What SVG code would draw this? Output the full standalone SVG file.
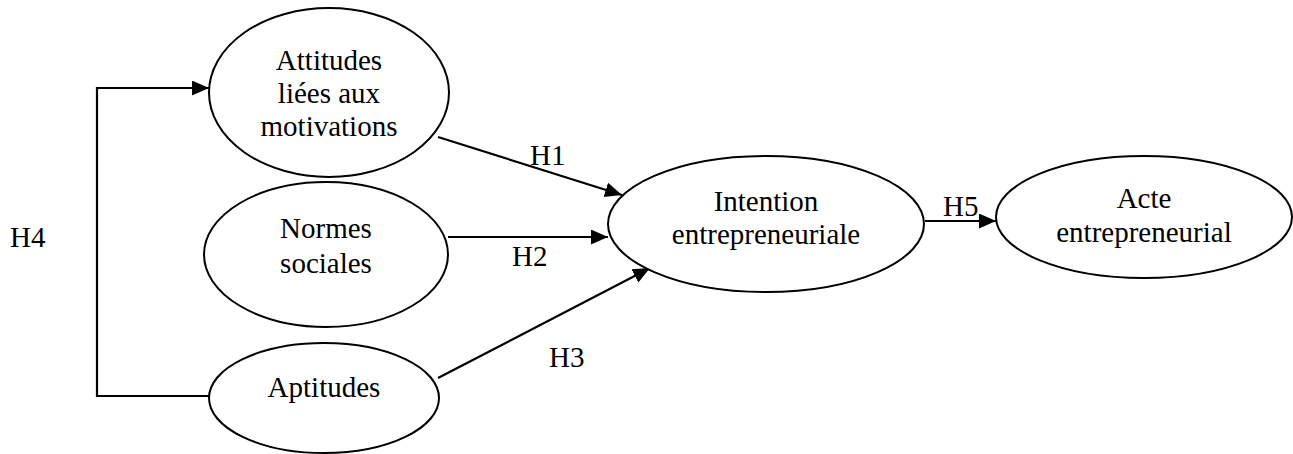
<svg xmlns="http://www.w3.org/2000/svg" width="1293" height="454" viewBox="0 0 1293 454">
  <style>
    .node ellipse { fill: #ffffff; stroke: #000000; stroke-width: 2; }
    text { font-family: "Liberation Serif", "Times New Roman", serif; font-size: 29px; fill: #000000; }
    .c { text-anchor: middle; }
    .edge { fill: none; stroke: #000000; stroke-width: 2.2; }
  </style>
  <defs>
    <marker id="arrow" markerUnits="userSpaceOnUse" markerWidth="18" markerHeight="16" refX="17" refY="7.5" orient="auto">
      <path d="M0,0 L17,7.5 L0,15 Z" fill="#000000"/>
    </marker>
  </defs>

  <rect width="1293" height="454" fill="#ffffff"/>

  <!-- connectors -->
  <g id="connectors">
    <polyline class="edge" points="209,396 97,396 97,88 209,88" marker-end="url(#arrow)"/>
    <line class="edge" x1="438" y1="137" x2="622" y2="195" marker-end="url(#arrow)"/>
    <line class="edge" x1="448" y1="237" x2="608" y2="237" marker-end="url(#arrow)"/>
    <line class="edge" x1="438" y1="378" x2="650" y2="268" marker-end="url(#arrow)"/>
    <line class="edge" x1="925" y1="221" x2="996" y2="221" marker-end="url(#arrow)"/>
    <text x="530" y="165">H1</text>
    <text x="512" y="266">H2</text>
    <text x="549" y="367">H3</text>
    <text x="10" y="247">H4</text>
    <text x="943" y="216">H5</text>
  </g>

  <g id="attitudes" class="node">
    <ellipse cx="329" cy="92.5" rx="120" ry="84.5"/>
    <text class="c" x="329" y="70">Attitudes</text>
    <text class="c" x="329" y="103">liées aux</text>
    <text class="c" x="329" y="136">motivations</text>
  </g>

  <g id="normes" class="node">
    <ellipse cx="326" cy="254.5" rx="122" ry="72.5"/>
    <text class="c" x="326" y="238">Normes</text>
    <text class="c" x="326" y="273">sociales</text>
  </g>

  <g id="aptitudes" class="node">
    <ellipse cx="324" cy="398" rx="115" ry="55"/>
    <text class="c" x="324" y="397">Aptitudes</text>
  </g>

  <g id="intention" class="node">
    <ellipse cx="766" cy="224" rx="158" ry="68"/>
    <text class="c" x="766" y="211">Intention</text>
    <text class="c" x="766" y="244">entrepreneuriale</text>
  </g>

  <g id="acte" class="node">
    <ellipse cx="1144" cy="217" rx="148" ry="61"/>
    <text class="c" x="1144" y="208">Acte</text>
    <text class="c" x="1144" y="242">entrepreneurial</text>
  </g>
</svg>
